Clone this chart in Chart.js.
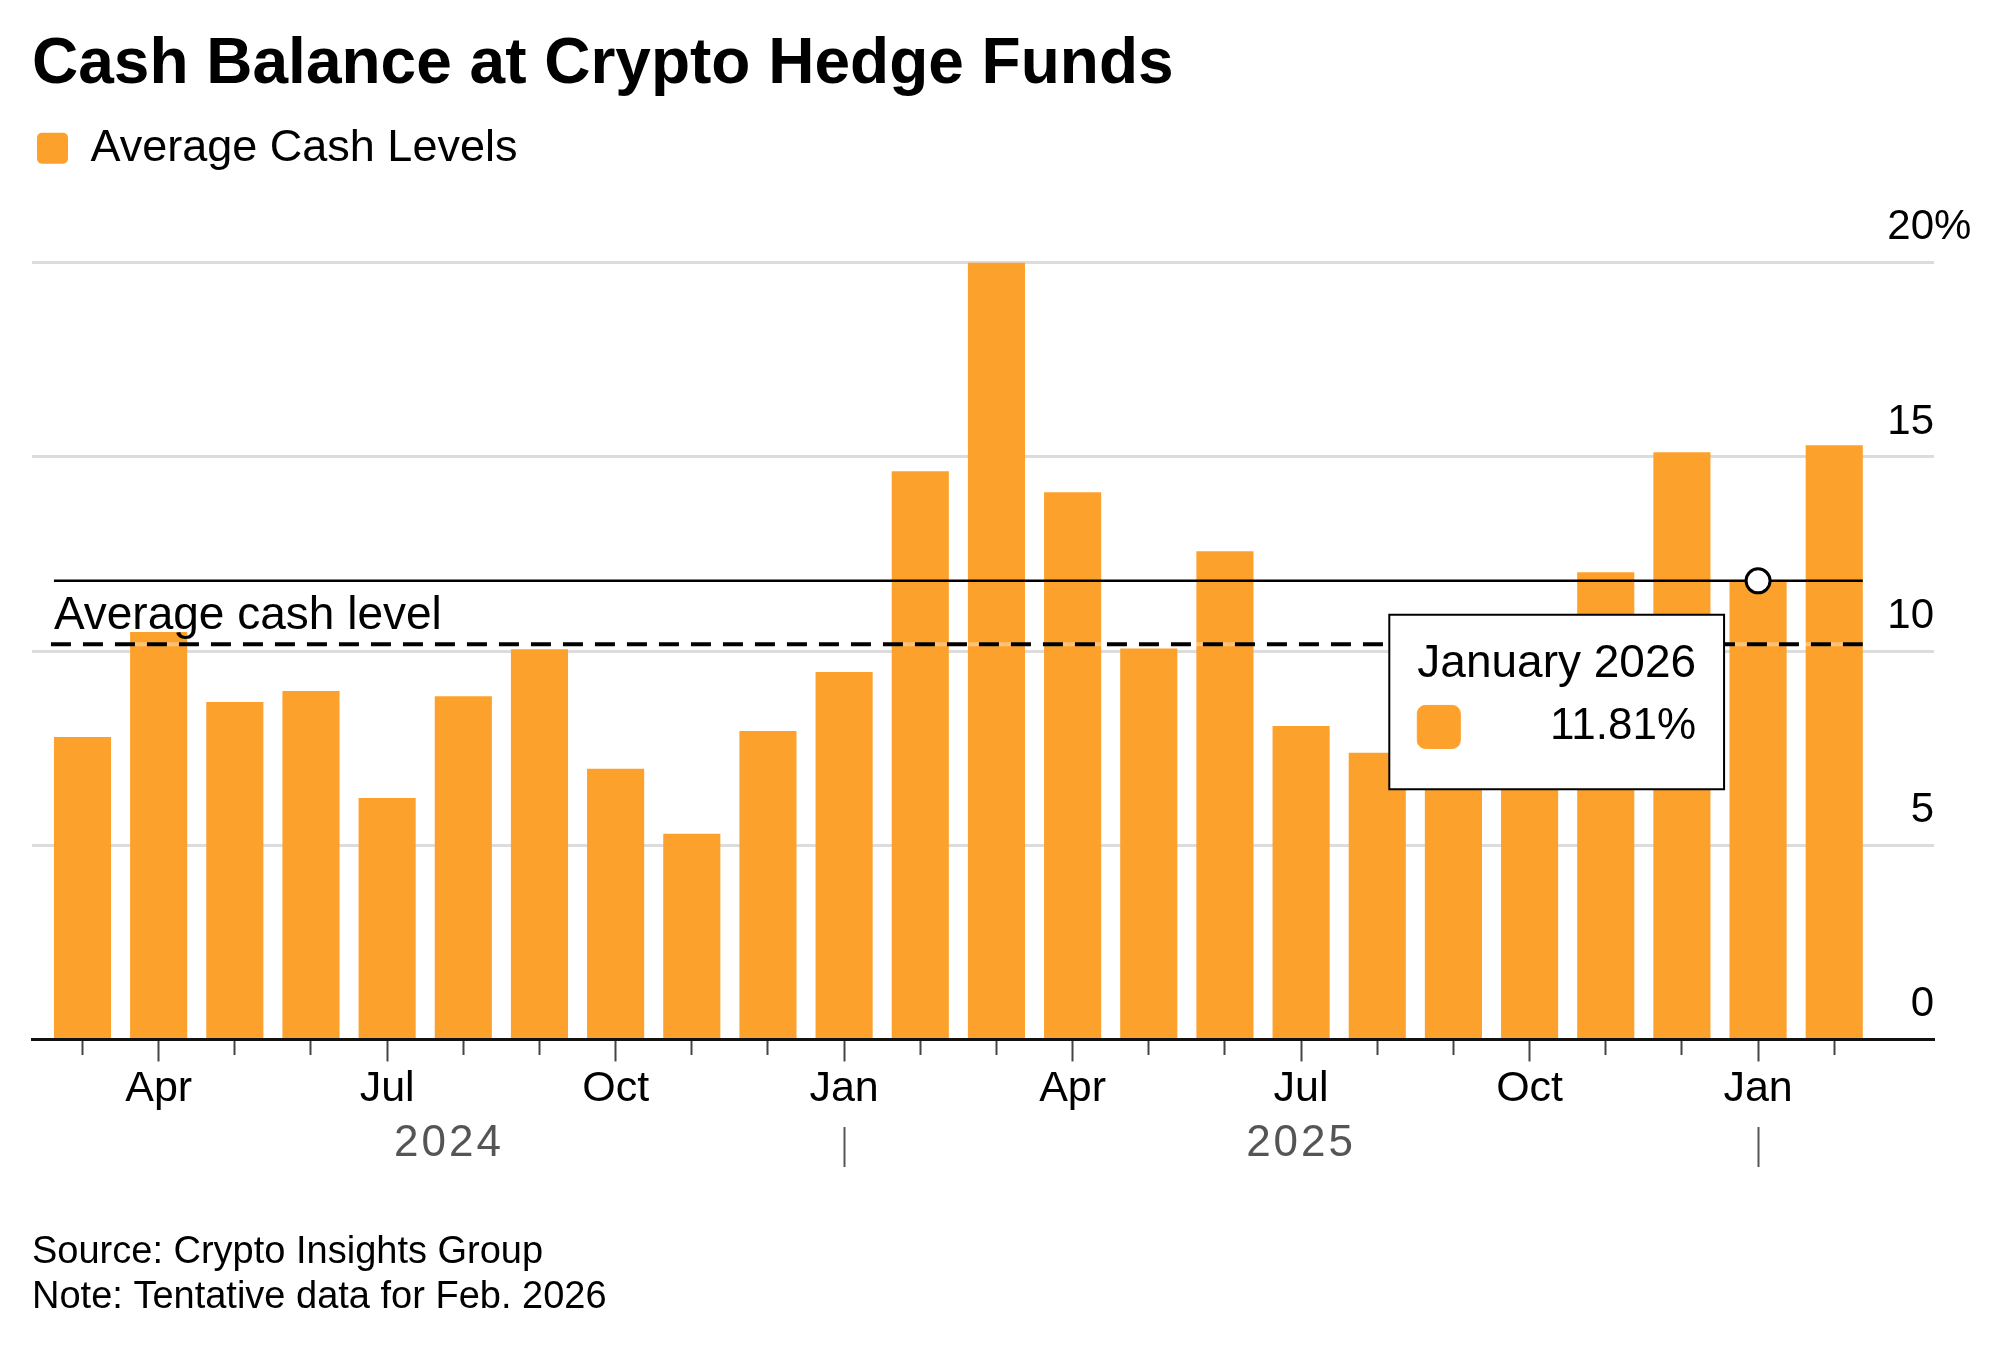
<!DOCTYPE html>
<html>
<head>
<meta charset="utf-8">
<title>Cash Balance at Crypto Hedge Funds</title>
<script src="https://cdn.jsdelivr.net/npm/chart.js@4.4.1/dist/chart.umd.min.js"></script>
<style>
  html, body { margin: 0; padding: 0; background: #fff; }
  #wrap { width: 2000px; height: 1360px; }
  canvas { display: block; }
</style>
</head>
<body>
<div id="wrap"><canvas id="cash-chart" width="2000" height="1360" style="width:2000px;height:1360px"></canvas></div>
<script>
const CATEGORIES = [
  "2024-03", "2024-04", "2024-05", "2024-06", "2024-07", "2024-08",
  "2024-09", "2024-10", "2024-11", "2024-12", "2025-01", "2025-02",
  "2025-03", "2025-04", "2025-05", "2025-06", "2025-07", "2025-08",
  "2025-09", "2025-10", "2025-11", "2025-12", "2026-01", "2026-02",
];
const CASH_LEVELS = [
  7.79, 10.49, 8.69, 8.97, 6.22, 8.84,
  10.05, 6.97, 5.30, 7.94, 9.46, 14.63,
  20.10, 14.09, 10.07, 12.57, 8.07, 7.38,
  8.40, 9.00, 12.03, 15.12, 11.81, 15.30,
];
const MONTH_NAMES = [
  "January", "February", "March", "April", "May", "June",
  "July", "August", "September", "October", "November", "December",
];
const MONTH_TICKS = ["Jan", "", "", "Apr", "", "", "Jul", "", "", "Oct", "", ""];
const YEAR_LABELS = ["2024", "2025"];
const Y_TICKS = [0, 5, 10, 15, 20];
const AVERAGE_LEVEL = 10.18;
const HIGHLIGHT = "2026-01";

const BAR_COLOR = "#FDA12D";
const FONT = "'Liberation Sans', Arial, Helvetica, sans-serif";

const monthOf = (c) => (c ? Number(c.slice(5)) - 1 : -1);
const yearOf = (c) => (c ? c.slice(0, 4) : "");
const tickLabel = (i) => MONTH_TICKS[monthOf(CATEGORIES[i])] || "";
const isQuarter = (i) => tickLabel(i) !== "";

Chart.defaults.font.family = FONT;
Chart.defaults.color = "#000";

// tooltip sits just below-left of the hovered bar top
Chart.Tooltip.positioners.pinned = function (elements) {
  if (!elements.length) return false;
  const el = elements[0].element;
  return { x: el.x - 34, y: el.y + 34 };
};

// extra room between legend and plot
const legendGap = {
  id: "legendGap",
  beforeInit(chart) {
    const fit = chart.legend.fit;
    chart.legend.fit = function () {
      fit.bind(chart.legend)();
      this.height += 82;
    };
  },
};

const overlays = {
  id: "overlays",
  afterDatasetsDraw(chart) {
    const { ctx, scales: { y } } = chart;
    const bars = chart.getDatasetMeta(0).data;
    const first = bars[0];
    const last = bars[bars.length - 1];
    const left = first.x - first.width / 2;
    const right = last.x + last.width / 2;

    ctx.save();
    // average level, dashed (light halo shows in the gaps over bars)
    const avgY = y.getPixelForValue(AVERAGE_LEVEL);
    ctx.strokeStyle = "rgba(255,255,255,0.35)";
    ctx.lineWidth = 4;
    ctx.beginPath();
    ctx.moveTo(left - 3, avgY);
    ctx.lineTo(right, avgY);
    ctx.stroke();

    ctx.strokeStyle = "#000";
    ctx.setLineDash([20, 12]);
    ctx.beginPath();
    ctx.moveTo(left - 3, avgY);
    ctx.lineTo(right, avgY);
    ctx.stroke();
    ctx.setLineDash([]);

    ctx.font = "46px " + FONT;
    ctx.fillStyle = "#000";
    ctx.textAlign = "left";
    ctx.textBaseline = "alphabetic";
    ctx.fillText("Average cash level", left, avgY - 15);

    // crosshair for the active bar
    const active = chart.tooltip.getActiveElements();
    if (active.length) {
      const bar = bars[active[0].index];
      ctx.lineWidth = 2.5;
      ctx.beginPath();
      ctx.moveTo(left, bar.y);
      ctx.lineTo(right, bar.y);
      ctx.stroke();

      ctx.beginPath();
      ctx.arc(bar.x, bar.y, 12, 0, Math.PI * 2);
      ctx.fillStyle = "#fff";
      ctx.fill();
      ctx.lineWidth = 3;
      ctx.stroke();
    }
    ctx.restore();
  },
  afterDraw(chart) {
    const { ctx, chartArea, scales: { x, y } } = chart;
    const bars = chart.getDatasetMeta(0).data;
    ctx.save();

    // % after the top y label
    ctx.font = "42px " + FONT;
    ctx.fillStyle = "#000";
    ctx.textAlign = "left";
    ctx.textBaseline = "middle";
    ctx.fillText("%", chartArea.right, y.getPixelForValue(Y_TICKS[Y_TICKS.length - 1]) - 35);

    // year row
    const rowY = x.bottom + 27;
    ctx.font = "44px " + FONT;
    ctx.letterSpacing = "3px";
    ctx.fillStyle = "#555";
    ctx.textAlign = "center";
    for (const year of YEAR_LABELS) {
      const idx = CATEGORIES.map((c, i) => (yearOf(c) === year ? i : -1)).filter((i) => i >= 0);
      const firstIdx = idx[0];
      const lastIdx = idx[idx.length - 1];
      const start = firstIdx === 0 ? bars[0].x - bars[0].width / 2 : x.getPixelForValue(firstIdx);
      const end = x.getPixelForValue(lastIdx + 1);
      ctx.fillText(year, (start + end) / 2, rowY);
    }

    // separators at each January
    ctx.strokeStyle = "#555";
    ctx.lineWidth = 2;
    CATEGORIES.forEach((c, i) => {
      if (monthOf(c) !== 0) return;
      const px = Math.round(x.getPixelForValue(i)) + 0.5;
      ctx.beginPath();
      ctx.moveTo(px, x.bottom + 10);
      ctx.lineTo(px, x.bottom + 50);
      ctx.stroke();
    });
    ctx.restore();
  },
};

const ctx = document.getElementById("cash-chart").getContext("2d");
const chart = new Chart(ctx, {
  type: "bar",
  data: {
    datasets: [{
      label: "Average Cash Levels",
      data: CATEGORIES.map((c, i) => ({ x: i, y: CASH_LEVELS[i] })),
      backgroundColor: BAR_COLOR,
      hoverBackgroundColor: BAR_COLOR,
      borderWidth: 0,
      barPercentage: 0.75,
      categoryPercentage: 1,
    }],
  },
  options: {
    responsive: false,
    devicePixelRatio: 1,
    animation: false,
    events: [],
    layout: { padding: { left: 32, right: 66, top: 0, bottom: 0 } },
    scales: {
      x: {
        type: "linear",
        offset: false,
        min: -0.663,
        max: 24.31,
        afterBuildTicks: (axis) => {
          axis.ticks = CATEGORIES.map((_, i) => ({ value: i }));
        },
        grid: {
          offset: false,
          drawOnChartArea: false,
          drawTicks: true,
          tickLength: 22,
          tickWidth: 2,
          tickColor: "#444",
          tickBorderDash: (c) => (isQuarter(c.index) ? [] : [14, 60]),
        },
        border: { display: true, color: "#111", width: 3 },
        ticks: {
          autoSkip: false,
          maxRotation: 0,
          padding: 2,
          color: "#000",
          font: { size: 43 },
          callback: (value, index) => tickLabel(index),
        },
      },
      y: {
        position: "right",
        min: 0,
        max: 20,
        afterBuildTicks: (axis) => {
          axis.ticks = Y_TICKS.map((v) => ({ value: v }));
        },
        grid: {
          drawTicks: false,
          lineWidth: 3,
          color: (c) => (c.tick && c.tick.value === 0 ? "rgba(0,0,0,0)" : "#dcdcdc"),
        },
        border: { display: false },
        ticks: {
          mirror: true,
          padding: 0,
          labelOffset: -35,
          color: "#000",
          font: { size: 42 },
          callback: (value) => String(value),
        },
      },
    },
    plugins: {
      title: {
        display: true,
        text: "Cash Balance at Crypto Hedge Funds",
        align: "start",
        color: "#000",
        font: { size: 64, weight: "bold" },
        padding: { top: 27, bottom: 17 },
      },
      legend: {
        display: true,
        position: "top",
        align: "start",
        labels: {
          boxWidth: 31,
          boxHeight: 31,
          useBorderRadius: true,
          borderRadius: 5,
          padding: 5,
          color: "#000",
          font: { size: 45 },
        },
      },
      subtitle: {
        display: true,
        position: "bottom",
        align: "start",
        text: ["Source: Crypto Insights Group", "Note: Tentative data for Feb. 2026"],
        color: "#000",
        font: { size: 38, lineHeight: 1.21 },
        padding: { top: 112, bottom: 39 },
      },
      tooltip: {
        enabled: true,
        position: "pinned",
        xAlign: "right",
        yAlign: "top",
        backgroundColor: "#fff",
        borderColor: "#000",
        borderWidth: 2,
        cornerRadius: 0,
        caretSize: 0,
        caretPadding: 0,
        padding: { top: 22, bottom: 36, left: 28, right: 28 },
        titleColor: "#000",
        titleFont: { size: 46, weight: "normal" },
        titleMarginBottom: 8.5,
        bodyColor: "#000",
        bodyFont: { size: 44 },
        bodyAlign: "right",
        displayColors: true,
        multiKeyBackground: BAR_COLOR,
        boxWidth: 43,
        boxHeight: 43,
        boxPadding: 0,
        callbacks: {
          title: (items) => {
            const c = CATEGORIES[items[0].dataIndex];
            return MONTH_NAMES[monthOf(c)] + " " + yearOf(c);
          },
          label: (item) => item.parsed.y.toFixed(2) + "%",
          labelColor: () => ({
            borderColor: BAR_COLOR,
            backgroundColor: BAR_COLOR,
            borderWidth: 1,
            borderRadius: 8,
          }),
        },
      },
    },
  },
  plugins: [legendGap, overlays],
});

chart.tooltip.setActiveElements(
  [{ datasetIndex: 0, index: CATEGORIES.indexOf(HIGHLIGHT) }],
  { x: 0, y: 0 }
);
chart.update();
</script>
</body>
</html>
